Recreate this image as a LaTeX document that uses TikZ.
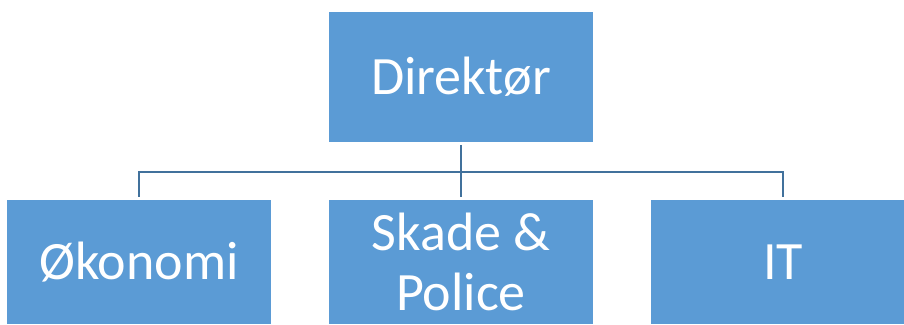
\documentclass[tikz,border=0pt]{standalone}
\usepackage{fontspec}
\setmainfont{Carlito}
\usepackage{tikz}

\definecolor{boxblue}{HTML}{5B9BD5}
\definecolor{lineblue}{HTML}{41719C}

\begin{document}
\begin{tikzpicture}[x=1pt,y=1pt,
        unit/.style={fill=boxblue, text=white, minimum width=264pt, outer sep=3pt,
            inner sep=0pt, align=center, font=\fontsize{54}{60}\selectfont},
        link/.style={draw=lineblue, line width=2pt}]

        \useasboundingbox (0,0) rectangle (904,324);

        \node[unit, minimum height=130pt] (dir) at (461,247) {Direktør};

        \node[unit, minimum height=124pt] (oko) at (139,62) {Økonomi};
        \node[unit, minimum height=124pt] (skade) at (461,62) {Skade \&\\Police};
        \node[unit, minimum height=124pt] (it) at (783,62) {IT};

        % connectors
        \draw[link] (dir.south) -- (skade.north);
        \draw[link] (oko.north) -- ++(0,25) -| (it.north);

    \end{tikzpicture}
\end{document}
